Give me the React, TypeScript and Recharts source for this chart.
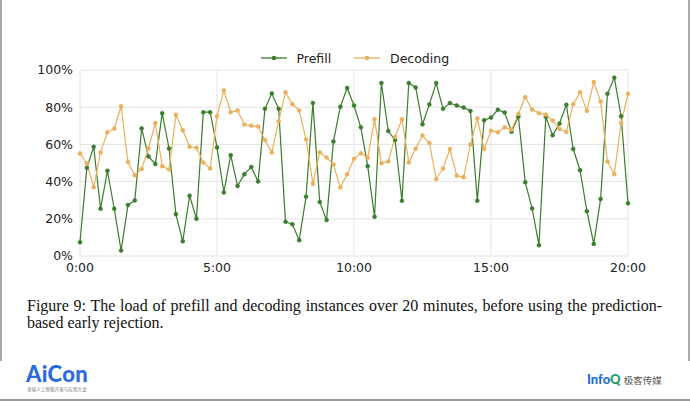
import React from 'react';
import { LineChart, Line, XAxis, YAxis, CartesianGrid } from 'recharts';

// load (%) sampled every 15 seconds, 0:00 .. 20:00
const prefill = [
  7.4, 47.4, 58.7, 25.4, 45.8, 25.4, 2.9, 27.4, 29.9, 68.6,
  53.5, 49.4, 76.8, 57.8, 22.5, 7.9, 32.4, 20.0, 77.3, 77.3,
  58.4, 34.2, 54.2, 37.7, 44.0, 47.8, 40.1, 79.1, 87.4, 79.1,
  18.4, 17.1, 8.5, 31.9, 82.2, 29.0, 19.3, 61.6, 80.2, 90.3,
  80.9, 69.2, 48.3, 21.1, 93.0, 67.2, 62.3, 29.7, 93.0, 90.6,
  70.8, 81.5, 93.0, 79.1, 82.2, 80.9, 79.8, 78.0, 29.7, 73.0,
  74.4, 78.6, 77.1, 66.8, 75.0, 39.6, 25.6, 5.8, 74.8, 64.9,
  71.2, 81.3, 57.5, 46.1, 24.1, 6.5, 30.6, 87.2, 95.9, 75.1,
  28.3,
];

const decoding = [
  55.1, 49.7, 36.9, 55.7, 66.5, 68.5, 80.5, 50.6, 43.4, 46.8,
  57.8, 71.5, 48.3, 46.5, 75.9, 67.6, 58.7, 58.2, 50.3, 47.0,
  75.3, 89.0, 77.3, 78.2, 70.7, 70.0, 69.6, 62.3, 55.7, 72.4,
  88.1, 81.6, 78.2, 62.7, 38.9, 55.7, 53.0, 49.2, 36.8, 44.0,
  52.3, 55.3, 52.8, 73.5, 49.9, 50.8, 64.0, 73.5, 50.3, 57.7,
  64.8, 60.7, 41.4, 47.0, 57.5, 43.2, 42.3, 60.0, 73.9, 57.5,
  67.4, 66.5, 69.2, 67.9, 76.4, 85.4, 78.7, 76.8, 76.0, 72.8,
  68.3, 66.7, 81.6, 88.1, 78.0, 93.5, 83.1, 50.8, 44.0, 71.5,
  87.2,
];

const xTicks = [0, 5, 10, 15, 20];
const yTicks = [0, 20, 40, 60, 80, 100];

const GREEN = '#3a7d2c';
const ORANGE = '#ebb05a';

const data = prefill.map((p, i) => ({ t: i / 4, prefill: p, decoding: decoding[i] }));

const tickStyle = { fontFamily: 'DejaVu Sans', fontSize: 12.5, fill: '#222' };

const Legend = () => (
  <svg width={690} height={20} style={{ position: 'absolute', left: 0, top: 48 }}>
    <line x1={261} x2={287} y1={10} y2={10} stroke={GREEN} strokeWidth={1.3} />
    <circle cx={274} cy={10} r={2.3} fill={GREEN} />
    <text x={296.5} y={10} dominantBaseline="central" style={tickStyle}>Prefill</text>
    <line x1={354} x2={380} y1={10} y2={10} stroke={ORANGE} strokeWidth={1.3} />
    <circle cx={367} cy={10} r={2.3} fill={ORANGE} />
    <text x={390} y={10} dominantBaseline="central" style={tickStyle}>Decoding</text>
  </svg>
);

export default function App() {
  return (
    <div style={{ position: 'absolute', left: 0, top: 0, width: 690, height: 401, background: '#fff', overflow: 'hidden' }}>
      <LineChart width={690} height={300} data={data} margin={{ top: 70, right: 62, bottom: 14, left: 20 }}>
        <CartesianGrid stroke="#e4e4e4" strokeWidth={1} />
        <XAxis
          type="number"
          dataKey="t"
          domain={[0, 20]}
          ticks={xTicks}
          tickFormatter={(v) => `${v}:00`}
          axisLine={false}
          tickLine={false}
          tickSize={0}
          tickMargin={7}
          height={30}
          tick={tickStyle}
        />
        <YAxis
          domain={[0, 100]}
          ticks={yTicks}
          tickFormatter={(v) => `${v}%`}
          axisLine={false}
          tickLine={false}
          tickSize={0}
          tickMargin={7}
          width={60}
          tick={tickStyle}
        />
        <Line dataKey="prefill" stroke={GREEN} strokeWidth={1.2} dot={{ r: 2, fill: GREEN, stroke: GREEN, strokeWidth: 0.5 }} isAnimationActive={false} />
        <Line dataKey="decoding" stroke={ORANGE} strokeWidth={1.2} dot={{ r: 2, fill: ORANGE, stroke: ORANGE, strokeWidth: 0.5 }} isAnimationActive={false} />
      </LineChart>
      <Legend />

      <div style={{ position: 'absolute', left: 27, top: 297, width: 635, fontFamily: 'Liberation Serif', fontSize: 16, lineHeight: '17px', color: '#111' }}>
        <div style={{ textAlign: 'justify', textAlignLast: 'justify' }}>
          Figure 9: The load of prefill and decoding instances over 20 minutes, before using the prediction-
        </div>
        <div>based early rejection.</div>
      </div>

      <div style={{ position: 'absolute', left: 0, top: 0, width: 1.5, height: 361, background: '#aaa' }} />
      <div style={{ position: 'absolute', left: 688, top: 0, width: 1.5, height: 361, background: '#aaa' }} />
      <div style={{ position: 'absolute', left: 0, top: 398.5, width: 690, height: 2, background: '#999' }} />

      <div style={{ position: 'absolute', left: 26, top: 361, fontFamily: 'Lato', fontWeight: 900, fontSize: 22, lineHeight: '26px', color: '#2a6be0', letterSpacing: 0.3 }}>
        AiCon
      </div>
      <div style={{ position: 'absolute', left: 27, top: 386, fontFamily: 'Noto Sans CJK SC', fontSize: 4.6, lineHeight: '6px', color: '#777', whiteSpace: 'nowrap' }}>
        全球人工智能开发与应用大会
      </div>
      <div style={{ position: 'absolute', left: 587, top: 371, fontFamily: 'Lato', fontSize: 13, lineHeight: '16px', whiteSpace: 'nowrap' }}>
        <span style={{ fontWeight: 900, color: '#1f6fcf' }}>Info</span>
        <span style={{ fontWeight: 900, color: '#1e9a6a' }}>Q</span>
        <span style={{ fontFamily: 'Noto Sans CJK SC', fontSize: 9.5, color: '#555', marginLeft: 3 }}>极客传媒</span>
      </div>
    </div>
  );
}
